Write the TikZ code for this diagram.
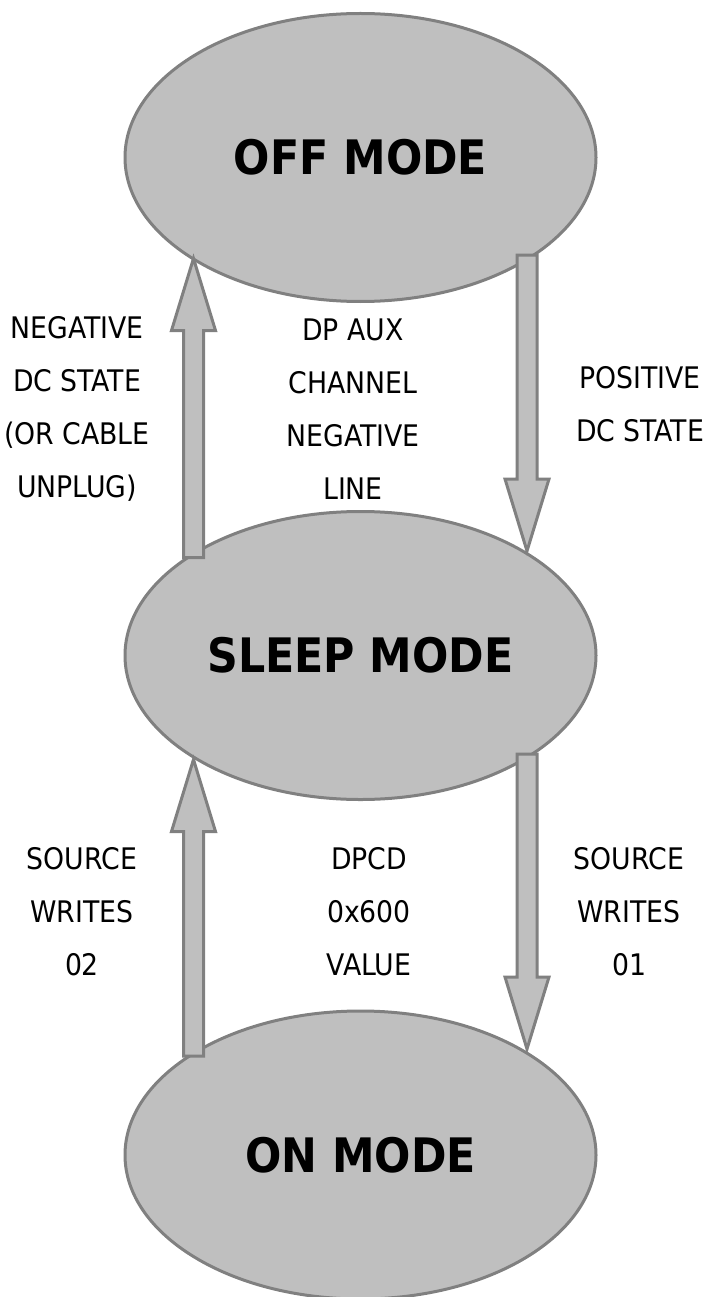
\documentclass[tikz,border=0pt]{standalone}
\usepackage{fontspec}
\setmainfont{DejaVu Sans Condensed}
\usepackage{xcolor}
\usepackage{tikz}
\usetikzlibrary{shapes,calc,positioning}

\definecolor{modefill}{HTML}{BFBFBF}
\definecolor{modeline}{HTML}{808080}

\begin{document}
\begin{tikzpicture}[
    x=1pt, y=-1pt,
    mode/.style={ellipse, draw=modeline, fill=modefill, line width=3pt, inner sep=0pt,
        minimum width=471pt, minimum height=288pt, font=\fontsize{47.5}{56}\selectfont\bfseries},
    cond/.style={align=center, inner sep=0pt, font=\fontsize{29.7}{53}\selectfont},
    flow/.style={draw=modeline, fill=modefill, line width=3pt},
]
\useasboundingbox (0,0) rectangle (710,1297);

% Modes
\node[mode] (off) at (360.5,157.5) {OFF MODE};
\node[mode] (sleep) at (360.5,655.5) {SLEEP MODE};
\node[mode] (on) at (360.5,1155) {ON MODE};

% Arrow ends
\coordinate (up1tail) at ($(sleep)+(-167,-98)$);
\coordinate (up1tip) at ($(off)+(-167,101)$);
\coordinate (dn1tail) at ($(off)+(166.5,97.5)$);
\coordinate (dn1tip) at ($(sleep)+(166.5,-104.5)$);
\coordinate (up2tail) at ($(on)+(-167,-99)$);
\coordinate (up2tip) at ($(sleep)+(-167,104)$);
\coordinate (dn2tail) at ($(sleep)+(166.5,98.5)$);
\coordinate (dn2tip) at ($(on)+(166.5,-106)$);

% Block arrows between modes
\foreach \src/\dst in {up1tail/up1tip, dn1tail/dn1tip, up2tail/up2tip, dn2tail/dn2tip} {
    \coordinate (head) at ($(\dst)!72pt!(\src)$);
    \draw[flow] ([xshift=-10pt]\src) -- ([xshift=-10pt]head) -- ([xshift=-22pt]head) -- (\dst)
        -- ([xshift=22pt]head) -- ([xshift=10pt]head) -- ([xshift=10pt]\src) -- cycle;
}

% Transition conditions
\node[cond] (negdc) at (77,408.5) {NEGATIVE\\DC STATE\\(OR CABLE\\UNPLUG)};
\node[cond] (auxline) at (353,409) {DP AUX\\CHANNEL\\NEGATIVE\\LINE};
\node[cond] (posdc) at (640,404) {POSITIVE\\DC STATE};
\node[cond] (writes02) at (82,911.5) {SOURCE\\WRITES\\02};
\node[cond] (dpcd) at (369,911.5) {DPCD\\0x600\\VALUE};
\node[cond] (writes01) at (629,911.5) {SOURCE\\WRITES\\01};

\end{tikzpicture}
\end{document}
